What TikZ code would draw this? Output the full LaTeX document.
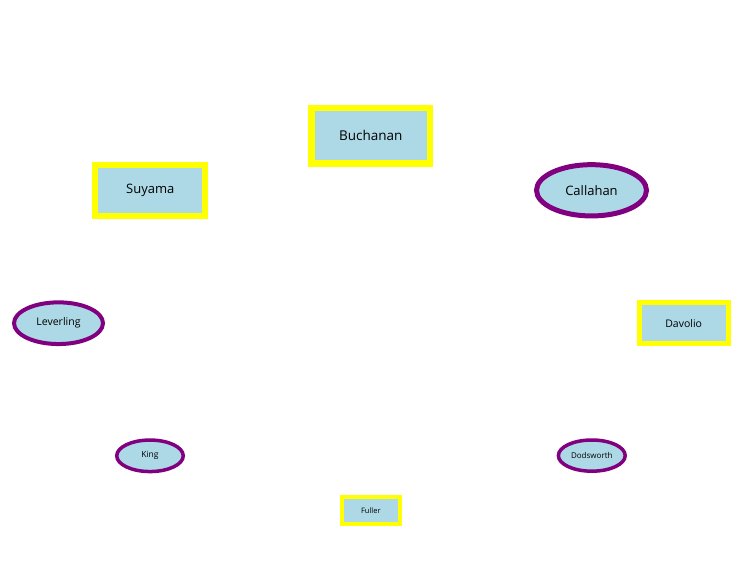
\documentclass[tikz,border=0pt]{standalone}
\usepackage{fontspec}
\setmainfont{Open Sans}
\usepackage{xcolor}
\usepackage{tikz}
\usetikzlibrary{shapes}

\definecolor{boxfill}{HTML}{ADD8E6}
\definecolor{boxline}{HTML}{FFFF00}
\definecolor{ovalline}{HTML}{800080}

\tikzset{
rectnode/.style={rectangle, draw=boxline, fill=boxfill, inner sep=0pt},
ovalnode/.style={ellipse, draw=ovalline, fill=boxfill, inner sep=0pt},
}

\begin{document}
\begin{tikzpicture}[x=1pt, y=-1pt]
\useasboundingbox (0, 0) rectangle (737, 587);

\node[rectnode, line width=6.5pt, minimum width=118.5pt, minimum height=55.5pt, font=\fontsize{13.5}{15}\selectfont] (buchanan) at (370.8, 135.7) {Buchanan};
\node[rectnode, line width=6pt, minimum width=110pt, minimum height=50.6pt, font=\fontsize{13}{14}\selectfont] (suyama) at (150.3, 190.5) {Suyama};
\node[ovalnode, line width=5pt, minimum width=110pt, minimum height=51.3pt, font=\fontsize{13}{14}\selectfont] (callahan) at (591.5, 190.3) {Callahan};

\node[ovalnode, line width=4pt, minimum width=89pt, minimum height=41.7pt, font=\fontsize{10.5}{12}\selectfont] (leverling) at (58.5, 323.2) {Leverling};
\node[rectnode, line width=5pt, minimum width=89pt, minimum height=41.7pt, font=\fontsize{10.5}{12}\selectfont] (davolio) at (683.7, 323.1) {Davolio};

\node[ovalnode, line width=3.5pt, minimum width=66.5pt, minimum height=31.5pt, font=\fontsize{8.5}{10}\selectfont] (king) at (150, 455.8) {King};
\node[ovalnode, line width=3.5pt, minimum width=66.8pt, minimum height=31.2pt, font=\fontsize{8}{10}\selectfont] (dodsworth) at (591.8, 455.6) {Dodsworth};

\node[rectnode, line width=4pt, minimum width=57.7pt, minimum height=26.7pt, font=\fontsize{7.5}{9}\selectfont] (fuller) at (370.8, 510.5) {Fuller};
\end{tikzpicture}
\end{document}
